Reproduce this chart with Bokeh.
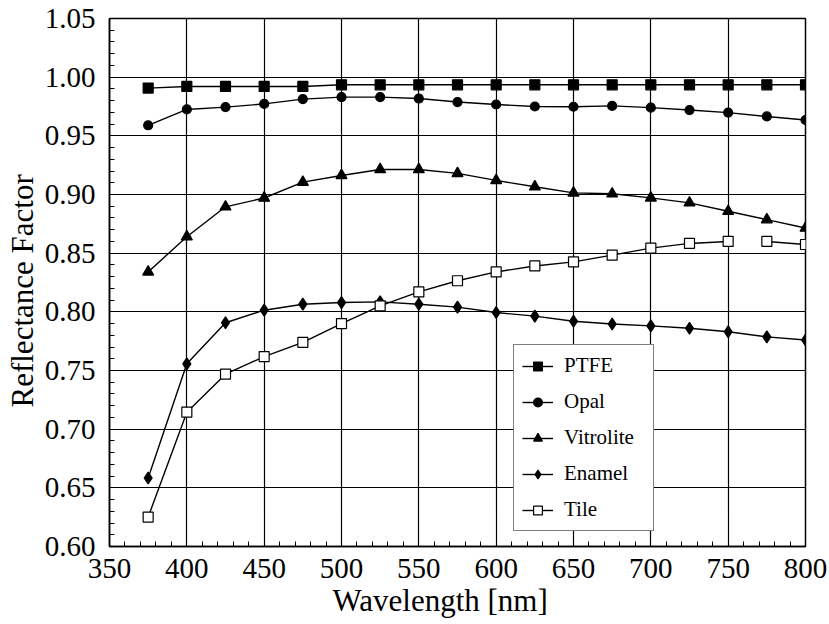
import numpy as np
from bokeh.plotting import figure
from bokeh.models import (Range1d, FixedTicker, NumeralTickFormatter, Legend,
                          LegendItem, Title)
from bokeh.embed import file_html
from bokeh.resources import INLINE

# Reflectance factor of five reference materials vs. wavelength
wavelength = [375, 400, 425, 450, 475, 500, 525, 550, 575,
              600, 625, 650, 675, 700, 725, 750, 775, 800]
ptfe = [0.9907, 0.9921, 0.9921, 0.9921, 0.9921, 0.9935, 0.9935, 0.9935, 0.9935,
        0.9935, 0.9935, 0.9935, 0.9935, 0.9935, 0.9935, 0.9935, 0.9935, 0.9935]
opal = [0.9590, 0.9725, 0.9745, 0.9772, 0.9813, 0.9830, 0.9830, 0.9818, 0.9788,
        0.9767, 0.9750, 0.9748, 0.9755, 0.9740, 0.9720, 0.9698, 0.9665, 0.9635]
vitrolite = [0.8340, 0.8640, 0.8895, 0.8970, 0.9105, 0.9162, 0.9213, 0.9213, 0.9180,
             0.9120, 0.9066, 0.9014, 0.9006, 0.8971, 0.8929, 0.8857, 0.8786, 0.8714]
enamel = [0.6584, 0.7557, 0.7907, 0.8014, 0.8065, 0.8079, 0.8085, 0.8065, 0.8040,
          0.7994, 0.7963, 0.7920, 0.7896, 0.7880, 0.7860, 0.7830, 0.7787, 0.7760]
tile = [0.6251, 0.7145, 0.7469, 0.7619, 0.7740, 0.7900, 0.8051, 0.8170, 0.8265,
        0.8340, 0.8391, 0.8426, 0.8483, 0.8543, 0.8583, 0.8600, 0.8600, 0.8574]
# the Tile trace is not joined between 750 and 775 nm
tile_break_at = 775

x_ticks = list(range(350, 801, 50))
x_minor = list(range(350, 801, 10))
y_ticks = [round(v, 2) for v in np.arange(0.60, 1.0501, 0.05)]
y_minor = [round(v, 2) for v in np.arange(0.60, 1.0501, 0.01)]

FONT = "Liberation Serif, serif"

p = figure(width=829, height=624, output_backend="svg", toolbar_location=None,
           x_range=Range1d(350, 800), y_range=Range1d(0.60, 1.05),
           min_border_left=107, min_border_right=24,
           min_border_top=18, min_border_bottom=78)
p.background_fill_color = "white"
p.border_fill_color = "white"
p.outline_line_color = "black"
p.outline_line_width = 1.5

p.xaxis.ticker = FixedTicker(ticks=x_ticks, minor_ticks=x_minor)
p.yaxis.ticker = FixedTicker(ticks=y_ticks, minor_ticks=y_minor)
p.yaxis.formatter = NumeralTickFormatter(format="0.00")

for ax in (p.xaxis[0], p.yaxis[0]):
    ax.axis_line_color = "black"
    ax.axis_line_width = 1.5
    ax.major_tick_in = 0
    ax.major_tick_out = 0
    ax.minor_tick_in = 5
    ax.minor_tick_out = 0
    ax.minor_tick_line_color = "black"
    ax.minor_tick_line_width = 1
    ax.major_label_text_font = FONT
    ax.major_label_text_font_size = "29px"
    ax.major_label_text_color = "black"
p.xaxis.major_label_standoff = 12
p.yaxis.major_label_standoff = 14

p.grid.grid_line_color = "black"
p.grid.grid_line_width = 1.2

LW = 1.4

def series(ys, marker, size, fill="black"):
    ln = p.line(wavelength, ys, line_color="black", line_width=LW)
    mk = p.scatter(wavelength, ys, marker=marker, size=size, fill_color=fill,
                   line_color="black", line_width=1.2)
    return [ln, mk]

r_ptfe = series(ptfe, "square", 10)
r_opal = series(opal, "circle", 9)
r_vit = series(vitrolite, "triangle", 11)
r_ena = series(enamel, "diamond", 12)

# Tile: line split into two runs, open square markers on top
k = wavelength.index(tile_break_at)
tile_line_x = wavelength[:k] + [float("nan")] + wavelength[k:]
tile_line_y = tile[:k] + [float("nan")] + tile[k:]
tl = p.line(tile_line_x, tile_line_y, line_color="black", line_width=LW)
tm = p.scatter(wavelength, tile, marker="square", size=10, fill_color="white",
               line_color="black", line_width=1.2)
r_tile = [tl, tm]

legend = Legend(items=[
    LegendItem(label="PTFE", renderers=r_ptfe),
    LegendItem(label="Opal", renderers=r_opal),
    LegendItem(label="Vitrolite", renderers=r_vit),
    LegendItem(label="Enamel", renderers=r_ena),
    LegendItem(label="Tile", renderers=r_tile),
], location=(404, 15))
legend.border_line_color = "black"
legend.border_line_width = 1.2
legend.background_fill_color = "white"
legend.background_fill_alpha = 1
legend.label_text_font = FONT
legend.label_text_font_size = "21px"
legend.label_text_color = "black"
legend.glyph_width = 31
legend.glyph_height = 22
legend.label_standoff = 11
legend.label_width = 81
legend.padding = 8
legend.spacing = 11
legend.margin = 0
p.add_layout(legend)

# axis titles, placed as side-panel titles so they can be offset along the axis
p.add_layout(Title(text="Wavelength [nm]", align="left", offset=223,
                   vertical_align="bottom", standoff=0, text_font=FONT,
                   text_font_size="31px", text_font_style="normal",
                   text_color="black"), "below")
p.add_layout(Title(text="Reflectance Factor", align="left", offset=139,
                   vertical_align="bottom", standoff=4, text_font=FONT,
                   text_font_size="31px", text_font_style="normal",
                   text_color="black"), "left")

open("out.html", "w").write(file_html(p, INLINE))
